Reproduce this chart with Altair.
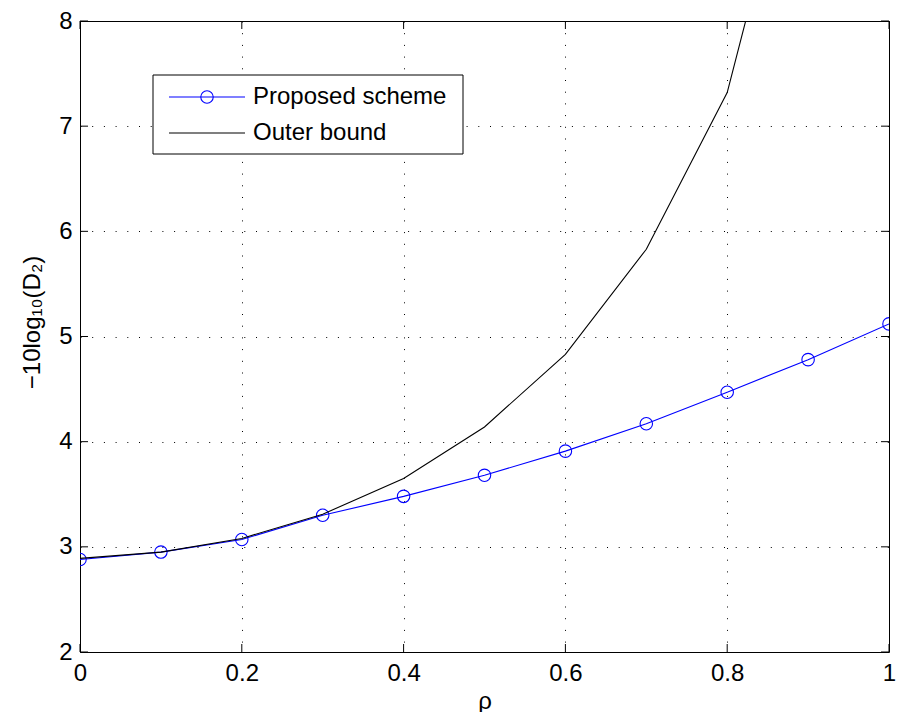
import altair as alt
import pandas as pd

# ---- data ----
rho = [0.0, 0.1, 0.2, 0.3, 0.4, 0.5, 0.6, 0.7, 0.8, 0.9, 1.0]
proposed = [2.88, 2.95, 3.07, 3.30, 3.48, 3.68, 3.91, 4.17, 4.47, 4.78, 5.12]
outer = [2.89, 2.95, 3.08, 3.31, 3.65, 4.14, 4.83, 5.83, 7.32, 10.3, 14.0]
x_ticks = [0, 0.2, 0.4, 0.6, 0.8, 1.0]
y_ticks = [2, 3, 4, 5, 6, 7, 8]
legend_labels = ["Proposed scheme", "Outer bound"]

W, H = 809, 631
FONT = "Liberation Sans"
FS = 24
BLUE = "#0000ff"
TL = 8  # inward tick length

df = pd.DataFrame({"rho": rho, "proposed": proposed, "outer": outer})
xscale = alt.Scale(domain=[0, 1], nice=False, zero=False)
yscale = alt.Scale(domain=[2, 8], nice=False, zero=False)

x_axis = alt.Axis(values=x_ticks, format="~g", title="ρ", grid=True, ticks=False,
                  domain=False, labelPadding=9, labelFlush=False, titlePadding=4)
y_axis = alt.Axis(values=y_ticks, format="d", title="−10log₁₀(D₂)", grid=True,
                  ticks=False, domain=False, labelPadding=8, titleX=-48, titleY=301,
                  titleAngle=270, titleBaseline="middle", titleAlign="center")


def X(field):
    return alt.X(field, scale=xscale, axis=x_axis)


def Y(field):
    return alt.Y(field, scale=yscale, axis=y_axis)


base = alt.Chart(df)
line_p = base.mark_line(color=BLUE, strokeWidth=1.1, clip=True).encode(
    x=X("rho:Q"), y=Y("proposed:Q"))
pts_p = base.mark_point(shape="circle", filled=False, color=BLUE, size=155,
                        strokeWidth=1.1, clip=True, opacity=1).encode(
    x=X("rho:Q"), y=Y("proposed:Q"))
line_o = base.mark_line(color="black", strokeWidth=1.1, clip=True).encode(
    x=X("rho:Q"), y=Y("outer:Q"))

# inward tick marks on all four sides
xt = alt.Chart(pd.DataFrame({"t": x_ticks}))
yt = alt.Chart(pd.DataFrame({"t": y_ticks}))
tick_layers = [
    xt.mark_rule(color="black", strokeWidth=1).encode(
        x=X("t:Q"), y=alt.value(H), y2=alt.value(H - TL)),
    xt.mark_rule(color="black", strokeWidth=1).encode(
        x=X("t:Q"), y=alt.value(0), y2=alt.value(TL)),
    yt.mark_rule(color="black", strokeWidth=1).encode(
        y=Y("t:Q"), x=alt.value(0), x2=alt.value(TL)),
    yt.mark_rule(color="black", strokeWidth=1).encode(
        y=Y("t:Q"), x=alt.value(W - TL), x2=alt.value(W)),
]

# legend box
one = alt.Chart(pd.DataFrame({"a": [0]}))
leg_box = one.mark_rect(fill="white", stroke="black", strokeWidth=1).encode(
    x=alt.value(73), x2=alt.value(383), y=alt.value(54), y2=alt.value(133))
leg_l1 = one.mark_rule(color=BLUE, strokeWidth=1.1).encode(
    x=alt.value(89), x2=alt.value(165), y=alt.value(76))
leg_c1 = one.mark_point(shape="circle", filled=False, color=BLUE, size=155,
                        strokeWidth=1.1, opacity=1).encode(x=alt.value(127), y=alt.value(76))
leg_l2 = one.mark_rule(color="black", strokeWidth=1.1).encode(
    x=alt.value(89), x2=alt.value(165), y=alt.value(112))
leg_t1 = alt.Chart(pd.DataFrame({"label": [legend_labels[0]]})).mark_text(
    align="left", baseline="middle", fontSize=FS, font=FONT, color="black").encode(
    x=alt.value(173), y=alt.value(76), text="label:N")
leg_t2 = alt.Chart(pd.DataFrame({"label": [legend_labels[1]]})).mark_text(
    align="left", baseline="middle", fontSize=FS, font=FONT, color="black").encode(
    x=alt.value(173), y=alt.value(112), text="label:N")

chart = alt.layer(
    line_p, pts_p, line_o, *tick_layers,
    leg_box, leg_l1, leg_c1, leg_l2, leg_t1, leg_t2,
).properties(
    width=W, height=H,
    autosize=alt.AutoSizeParams(type="none"),
    padding={"left": 72, "top": 13, "right": 7, "bottom": 60},
).configure_view(
    stroke="black", strokeWidth=1
).configure_axis(
    labelFont=FONT, titleFont=FONT, labelFontSize=FS, titleFontSize=FS,
    labelColor="black", titleColor="black", titleFontWeight="normal",
    gridColor="black", gridOpacity=1, gridDash=[1, 10.7], gridWidth=1,
)

chart.save("out.html", embed_options={"renderer": "svg", "actions": False})
